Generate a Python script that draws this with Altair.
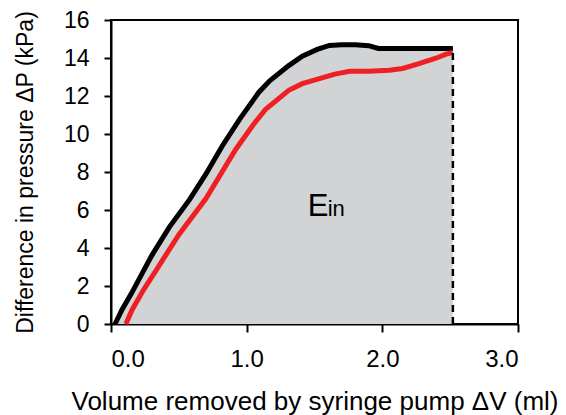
import altair as alt
import pandas as pd

# Black curve (upper)
black_x = [0.03, 0.08, 0.15, 0.21, 0.30, 0.43, 0.58, 0.70, 0.82, 0.95, 1.09, 1.17, 1.31, 1.41, 1.52, 1.61, 1.70, 1.80, 1.90, 1.97, 2.10, 2.30, 2.52]
black_y = [0.0, 0.74, 1.6, 2.4, 3.6, 5.1, 6.56, 7.9, 9.37, 10.8, 12.2, 12.8, 13.6, 14.1, 14.45, 14.66, 14.7, 14.7, 14.65, 14.5, 14.5, 14.5, 14.5]

# Red curve (lower)
red_x = [0.11, 0.155, 0.24, 0.33, 0.50, 0.70, 0.92, 1.05, 1.14, 1.31, 1.41, 1.53, 1.65, 1.76, 1.90, 2.05, 2.15, 2.27, 2.40, 2.47, 2.52]
red_y = [0.0, 0.74, 1.8, 2.8, 4.7, 6.6, 9.2, 10.5, 11.3, 12.3, 12.65, 12.9, 13.15, 13.3, 13.3, 13.35, 13.45, 13.7, 14.0, 14.2, 14.3]

x_ticks = [0.0, 1.0, 2.0, 3.0]
y_ticks = [0, 2, 4, 6, 8, 10, 12, 14, 16]

end_x = [2.52]
end_y0 = [0.0]
end_y1 = [14.5]

label_x = [1.45]
label_y = [5.66]

black = pd.DataFrame({"x": black_x, "y": black_y})
red = pd.DataFrame({"x": red_x, "y": red_y})
end = pd.DataFrame({"x": end_x, "y0": end_y0, "y1": end_y1})
lab = pd.DataFrame({"x": label_x, "y": label_y})

FONT = "Liberation Sans"

xs = alt.Scale(domain=[0, 3])
ys = alt.Scale(domain=[0, 16])

xax = alt.Axis(values=x_ticks, format=".1f", title="Volume removed by syringe pump ΔV (ml)",
               grid=False, tickSize=8, labelPadding=15, titlePadding=17,
               labelFontSize=24, titleFontSize=26, labelOverlap=False)
yax = alt.Axis(values=y_ticks, title="Difference in pressure ΔP (kPa)",
               grid=False, tickSize=7, labelPadding=15, titlePadding=26,
               labelFontSize=23, titleFontSize=23, labelOverlap=False)

X = alt.X("x:Q", scale=xs, axis=xax)
Y = alt.Y("y:Q", scale=ys, axis=yax)

area = alt.Chart(black).mark_area(color="#d2d3d5", opacity=1).encode(x=X, y=Y)

bl = alt.Chart(black).mark_line(color="black", strokeWidth=5, strokeJoin="miter").encode(x=X, y=Y)
rl = alt.Chart(red).mark_line(color="#ee2024", strokeWidth=5).encode(x=X, y=Y)

dash = alt.Chart(end).mark_rule(color="black", strokeWidth=2.5, strokeDash=[7, 5]).encode(
    x=X, y=alt.Y("y0:Q", scale=ys, axis=yax), y2="y1:Q")

tE = alt.Chart(lab).mark_text(text="E", font=FONT, fontSize=31, align="left", baseline="alphabetic", color="black").encode(
    x=X, y=Y)
tin = alt.Chart(lab).mark_text(text="in", font=FONT, fontSize=22, align="left", baseline="alphabetic", dx=20, color="black").encode(
    x=X, y=Y)

chart = alt.layer(area, bl, rl, dash, tE, tin).properties(
    width=407, height=304,
    autosize=alt.AutoSizeParams(type="none"),
    padding={"left": 103, "top": 12, "right": 40, "bottom": 95},
).configure_view(stroke="black", strokeWidth=2).configure_axis(
    domainColor="black", domainWidth=2, tickColor="black", tickWidth=2,
    labelFont=FONT, titleFont=FONT, labelOverlap=False,
    labelColor="black", titleColor="black", titleFontWeight="normal",
)

chart.save("out.html", embed_options={"renderer": "svg", "actions": False})
